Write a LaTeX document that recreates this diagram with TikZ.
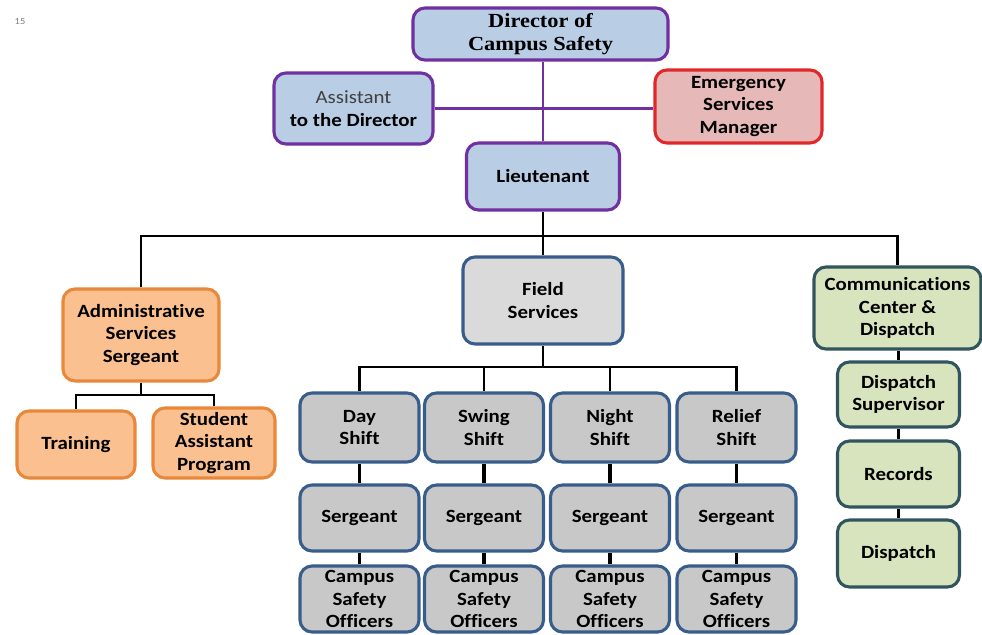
\documentclass[tikz,border=0pt]{standalone}
\usepackage{fontspec}
\usetikzlibrary{backgrounds}
\setmainfont{Carlito}[FakeStretch=1.12, Ligatures=NoCommon]
\newfontfamily\dirfont{Liberation Serif}[FakeStretch=1.12]
\definecolor{bluefill}{HTML}{B9CDE5}
\definecolor{purp}{HTML}{7030A0}
\definecolor{redb}{HTML}{E0282A}
\definecolor{pinkfill}{HTML}{E6B8B7}
\definecolor{orfill}{HTML}{FAC090}
\definecolor{orb}{HTML}{E8883A}
\definecolor{grayfill}{HTML}{C8C8C8}
\definecolor{lgrayfill}{HTML}{DADADA}
\definecolor{bluebord}{HTML}{385D8A}
\definecolor{grfill}{HTML}{D7E4BD}
\definecolor{grb}{HTML}{31555F}
\definecolor{txtgray}{HTML}{404040}
\tikzset{
  box/.style={draw, line width=2.3pt, rounded corners=9pt, align=center, inner sep=1pt,
    font=\bfseries\fontsize{14}{17}\selectfont},
  sz/.style 2 args={minimum width=#1*0.75pt, minimum height=#2*0.75pt},
  bluebox/.style={box, fill=bluefill, draw=purp},
  redbox/.style={box, fill=pinkfill, draw=redb},
  orbox/.style={box, fill=orfill, draw=orb},
  graybox/.style={box, fill=grayfill, draw=bluebord},
  greenbox/.style={box, fill=grfill, draw=grb},
  pline/.style={draw=purp, line width=2pt},
  bline/.style={draw=black, line width=1.6pt},
  tline/.style={draw=black, line width=2.4pt},
}
\begin{document}
\begin{tikzpicture}[x=0.75pt, y=-0.75pt]
\useasboundingbox (0,0) rectangle (982,635);
\node[text=gray, font=\fontsize{7}{8}\selectfont] (pg) at (20,22) {15};
% top
\node[bluebox, sz={255}{52}, font=\dirfont\bfseries\fontsize{15}{17}\selectfont] (dir) at (540.5,34) {Director of\\Campus Safety};
\node[bluebox, sz={159}{71}] (asst) at (353.5,108.5) {{\mdseries\color{txtgray}Assistant}\\to the Director};
\node[redbox, sz={167}{73}] (ems) at (738.5,106.5) {Emergency\\Services\\Manager};
\node[bluebox, sz={153}{67}] (lt) at (543,176.5) {Lieutenant};
% level 2
\node[orbox, sz={156}{92}] (adm) at (141,335) {Administrative\\Services\\Sergeant};
\node[box, fill=lgrayfill, draw=bluebord, sz={160}{87}] (fld) at (543,300.5) {Field\\Services};
\node[greenbox, sz={167}{82}] (comm) at (897.5,308) {Communications\\Center \&\\Dispatch};
% admin children
\node[orbox, sz={118}{67}] (trn) at (76,444.5) {Training};
\node[orbox, sz={122}{70}] (sap) at (214,443) {Student\\Assistant\\Program};
% shifts
\node[graybox, sz={119}{69}] (day) at (359.5,427.5) {Day\\Shift};
\node[graybox, sz={119}{69}] (swing) at (484,427.5) {Swing\\Shift};
\node[graybox, sz={119}{69}] (night) at (610,427.5) {Night\\Shift};
\node[graybox, sz={119}{69}] (relief) at (736.5,427.5) {Relief\\Shift};
\node[graybox, sz={119}{66}] (sg1) at (359.5,518) {Sergeant};
\node[graybox, sz={119}{66}] (sg2) at (484,518) {Sergeant};
\node[graybox, sz={119}{66}] (sg3) at (610,518) {Sergeant};
\node[graybox, sz={119}{66}] (sg4) at (736.5,518) {Sergeant};
\node[graybox, sz={119}{66}] (cs1) at (359.5,599) {Campus\\Safety\\Officers};
\node[graybox, sz={119}{66}] (cs2) at (484,599) {Campus\\Safety\\Officers};
\node[graybox, sz={119}{66}] (cs3) at (610,599) {Campus\\Safety\\Officers};
\node[graybox, sz={119}{66}] (cs4) at (736.5,599) {Campus\\Safety\\Officers};
% dispatch column
\node[greenbox, sz={122}{65}] (dsup) at (898.5,394.5) {Dispatch\\Supervisor};
\node[greenbox, sz={122}{66}] (rec) at (898.5,474) {Records};
\node[greenbox, sz={122}{67}] (disp) at (898.5,553.5) {Dispatch};
% connectors
\coordinate (b1) at (543,236);
\coordinate (a1) at (141,395);
\coordinate (f1) at (543,367);
\begin{scope}[on background layer]
\fill[white] (0,0) rectangle (982,635);
\draw[pline] (lt.north) -- (lt.north |- dir.south);
\draw[pline] (asst.east) -- (asst.east -| ems.west);
\draw[bline] (lt.south) -- (b1);
\draw[bline] (adm.north) |- (b1) -| (comm.north);
\draw[bline] (fld.north) -- (b1);
\draw[bline] (adm.south) -- (a1);
\draw[bline] (trn.north) |- (a1) -| (sap.north);
\draw[bline] (fld.south) -- (f1);
\draw[bline] (day.north) |- (f1) -| (relief.north);
\draw[bline] (swing.north) -- (swing.north |- f1);
\draw[bline] (night.north) -- (night.north |- f1);
\draw[tline] (day.south) -- (sg1.north);
\draw[tline] (swing.south) -- (sg2.north);
\draw[tline] (night.south) -- (sg3.north);
\draw[tline] (relief.south) -- (sg4.north);
\draw[tline] (sg1.south) -- (cs1.north);
\draw[tline] (sg2.south) -- (cs2.north);
\draw[tline] (sg3.south) -- (cs3.north);
\draw[tline] (sg4.south) -- (cs4.north);
\draw[tline] (comm.south -| dsup.north) -- (dsup.north);
\draw[tline] (dsup.south) -- (rec.north);
\draw[tline] (rec.south) -- (disp.north);
\end{scope}
\end{tikzpicture}
\end{document}
